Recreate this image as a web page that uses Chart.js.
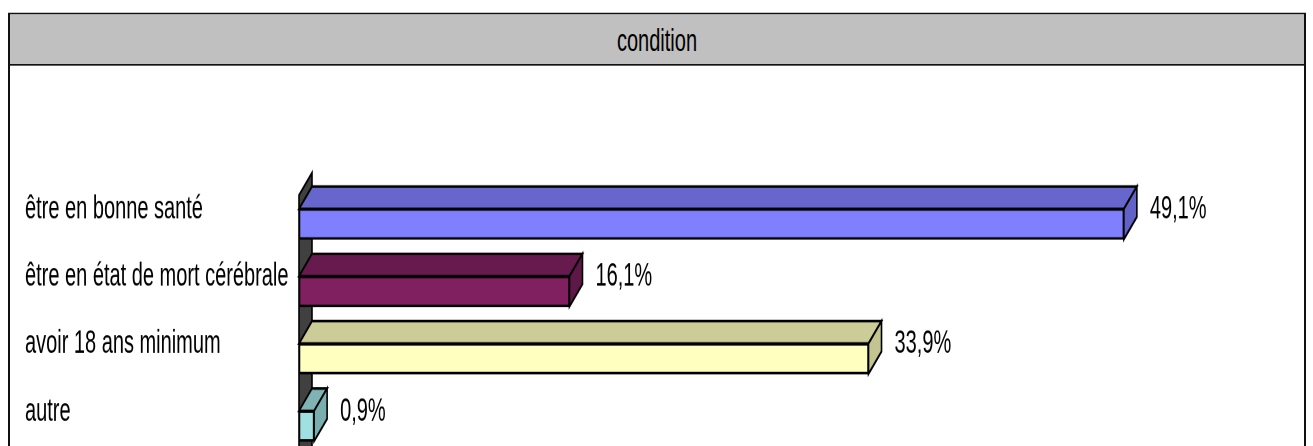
<!DOCTYPE html>
<html>
<head>
<meta charset="utf-8">
<script src="https://cdn.jsdelivr.net/npm/chart.js@4.4.1/dist/chart.umd.min.js"></script>
<style>
html, body { margin: 0; padding: 0; background: #fff; overflow: hidden; width: 1313px; height: 446px; }
/* the source picture is stretched vertically, so the whole drawing is too */
#wrap { position: absolute; left: 0; top: 0; width: 1313px; height: 300px; transform: scaleY(1.6); transform-origin: 0 0; }
#c { position: absolute; left: 0; top: 0; }
#frame { position: absolute; left: 8px; top: 7.5px; width: 1298px; height: 400px; box-sizing: border-box;
         border: 2px solid #111; border-top-width: 1.8px; }
#head { height: 31.2px; background: #c0c0c0; border-bottom: 1.8px solid #111; position: relative; }
#head span { position: absolute; left: 0; right: 0; top: 5px; text-align: center;
             font: 20px "Liberation Sans", Arial, sans-serif; line-height: 22px; color: #000; }
</style>
</head>
<body>
<div id="wrap">
  <canvas id="c" width="1313" height="300"></canvas>
  <div id="frame"><div id="head"><span>condition</span></div></div>
</div>
<script>
var categories = ["être en bonne santé", "être en état de mort cérébrale", "avoir 18 ans minimum", "autre"];
var percents = [49.1, 16.1, 33.9, 0.9];
var frontColors = ["#8080ff", "#802060", "#ffffc0", "#a0e0e0"];
var topColors = ["#6666cc", "#661a4d", "#cccc99", "#80b3b3"];
var sideColors = ["#6262c6", "#5e1847", "#c4c490", "#7aadad"];

var DX = 13, DY = 14;

function poly(ctx, pts, fill) {
    ctx.beginPath();
    ctx.moveTo(pts[0][0], pts[0][1]);
    for (var i = 1; i < pts.length; i++) ctx.lineTo(pts[i][0], pts[i][1]);
    ctx.closePath();
    ctx.fillStyle = fill;
    ctx.fill();
    ctx.stroke();
}

function fmt(v) {
    return v.toFixed(1).replace('.', ',') + '%';
}

// draws the wall, the top and right faces of each bar, then the value labels
var bar3d = {
    id: 'bar3d',
    beforeDatasetsDraw: function(chart) {
        var ctx = chart.ctx, area = chart.chartArea;
        ctx.save();
        ctx.lineWidth = 1.6;
        ctx.strokeStyle = '#000';
        var wt = area.top - 11;
        poly(ctx, [[area.left, wt + DY], [area.left + DX, wt], [area.left + DX, area.bottom + 40], [area.left, area.bottom + 40 + DY]], '#404040');
        chart.getDatasetMeta(0).data.forEach(function(bar, i) {
            var top = bar.y - bar.height / 2, bottom = bar.y + bar.height / 2;
            poly(ctx, [[bar.base, top], [bar.x, top], [bar.x + DX, top - DY], [bar.base + DX, top - DY]], topColors[i]);
            poly(ctx, [[bar.x, top], [bar.x + DX, top - DY], [bar.x + DX, bottom - DY], [bar.x, bottom]], sideColors[i]);
        });
        ctx.restore();
    },
    afterDatasetsDraw: function(chart) {
        var ctx = chart.ctx;
        ctx.save();
        ctx.font = '20px "Liberation Sans", Arial, sans-serif';
        ctx.fillStyle = '#000';
        ctx.textAlign = 'left';
        ctx.textBaseline = 'middle';
        chart.getDatasetMeta(0).data.forEach(function(bar, i) {
            ctx.fillText(fmt(percents[i]), bar.x + DX + 13, bar.y - 9);
        });
        ctx.restore();
    }
};

Chart.defaults.font.family = '"Liberation Sans", Arial, sans-serif';
Chart.defaults.color = '#000';

var chart = new Chart(document.getElementById('c').getContext('2d'), {
    type: 'bar',
    data: {
        labels: categories,
        datasets: [{
            data: percents,
            backgroundColor: frontColors,
            borderColor: '#000',
            borderWidth: 1.6,
            borderSkipped: false,
            barThickness: 19
        }]
    },
    options: {
        indexAxis: 'y',
        responsive: false,
        animation: false,
        devicePixelRatio: 2,
        layout: { padding: { left: 25, right: 174, top: 119, bottom: 12.7 } },
        plugins: { legend: { display: false }, tooltip: { enabled: false } },
        scales: {
            x: { display: false, min: 0, max: 50 },
            y: {
                grid: { display: false },
                border: { display: false },
                ticks: { crossAlign: 'far', labelOffset: -9, padding: 0, font: { size: 20 }, color: '#000' },
                afterFit: function(s) { s.width = 274; }
            }
        }
    },
    plugins: [bar3d]
});
</script>
</body>
</html>
